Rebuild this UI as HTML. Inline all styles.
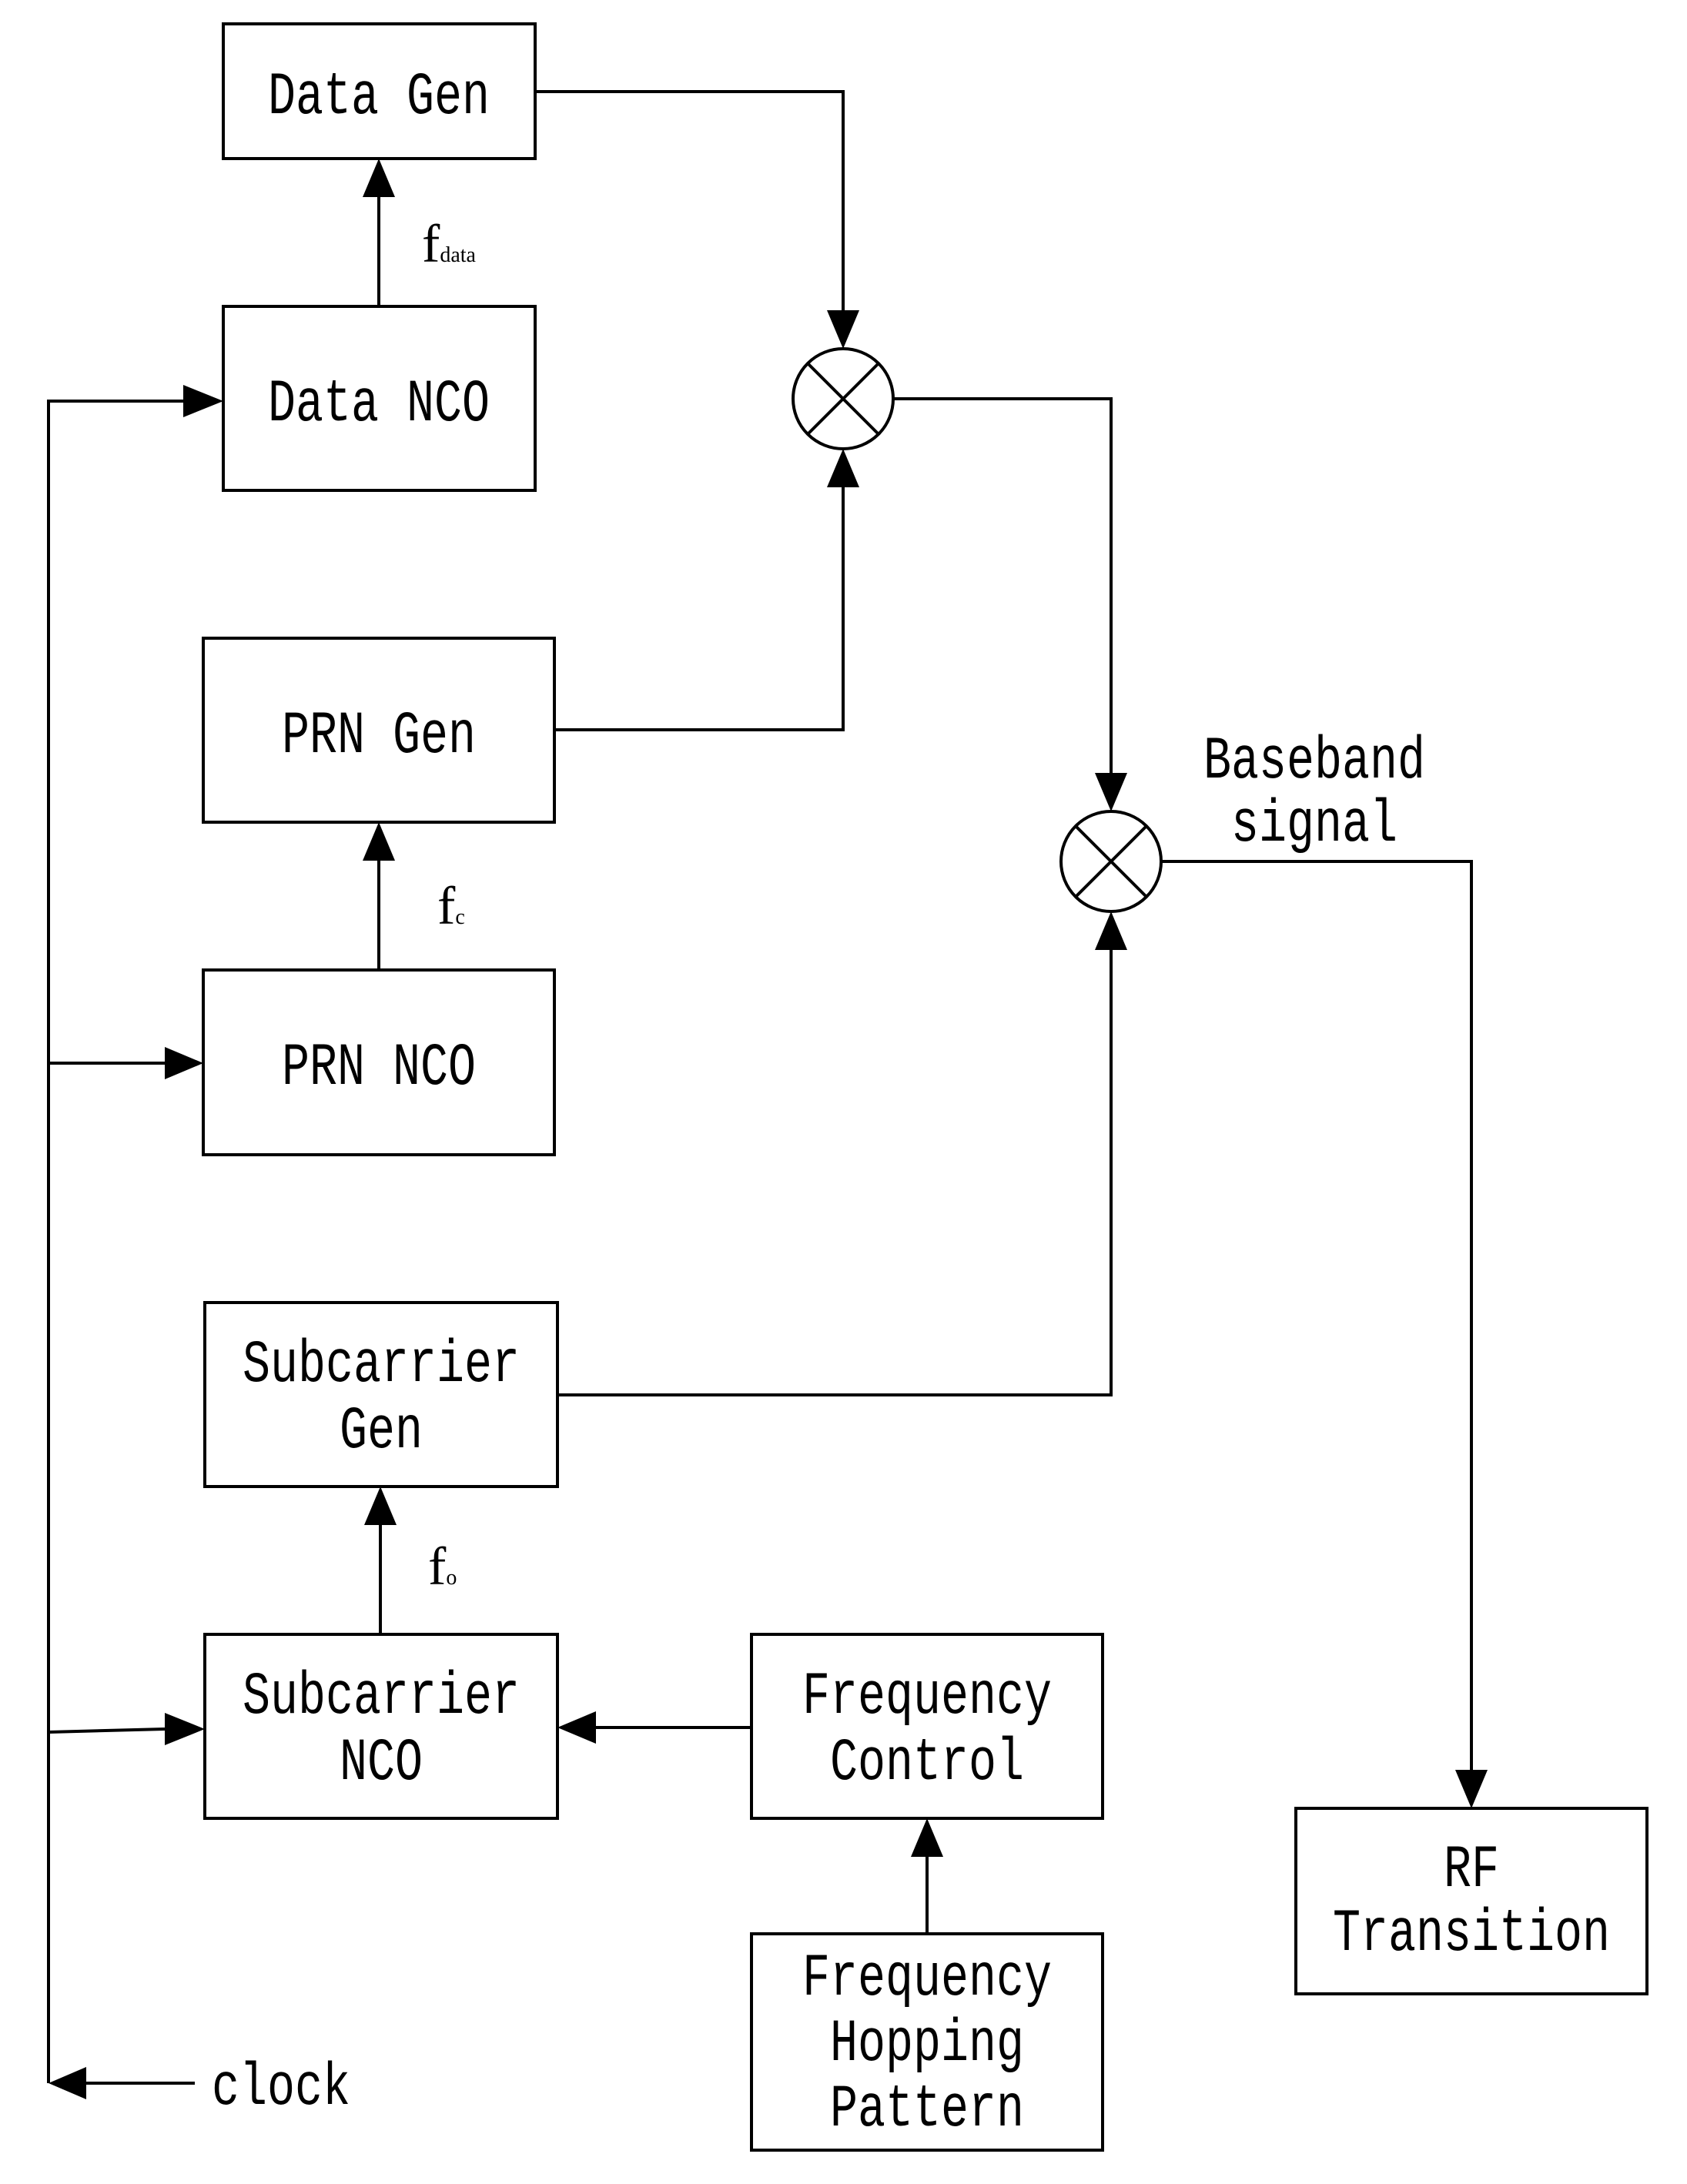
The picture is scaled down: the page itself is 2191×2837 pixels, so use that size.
<!DOCTYPE html>
<html><head><meta charset="utf-8"><style>html,body{margin:0;padding:0;background:#fff}svg{display:block}</style></head><body>
<svg width="2191" height="2837" viewBox="0 0 2191 2837" xmlns="http://www.w3.org/2000/svg">
<style>text{font-family:"Liberation Mono",monospace;font-size:60px;fill:#000}</style>
<g fill="none" stroke="#000" stroke-width="4">
<rect x="290" y="31" width="405" height="175"/>
<rect x="290" y="398" width="405" height="239"/>
<rect x="264" y="829" width="456" height="239"/>
<rect x="264" y="1260" width="456" height="240"/>
<rect x="266" y="1692" width="458" height="239"/>
<rect x="266" y="2123" width="458" height="239"/>
<rect x="976" y="2123" width="456" height="239"/>
<rect x="976" y="2512" width="456" height="281"/>
<rect x="1683" y="2349" width="456" height="241"/>
<circle cx="1095" cy="518" r="65"/>
<circle cx="1443" cy="1119" r="65"/>
<path d="M1049,472 L1141,564 M1141,472 L1049,564"/>
<path d="M1397,1073 L1489,1165 M1489,1073 L1397,1165"/>
</g>
<g fill="none" stroke="#000" stroke-width="4">
<path d="M63,2706 L63,521 L238,521"/>
<path d="M63,1381 L214,1381"/>
<path d="M63,2250 L214,2246"/>
<path d="M253,2706 L112,2706"/>
<path d="M492,398 L492,256"/>
<path d="M492,1260 L492,1118"/>
<path d="M494,2123 L494,1981"/>
<path d="M1204,2512 L1204,2412"/>
<path d="M976,2244 L774,2244"/>
<path d="M695,119 L1095,119 L1095,403"/>
<path d="M720,948 L1095,948 L1095,633"/>
<path d="M1160,518 L1443,518 L1443,1004"/>
<path d="M724,1812 L1443,1812 L1443,1234"/>
<path d="M1508,1119 L1911,1119 L1911,2299"/>
</g>
<g fill="#000">
<path d="M238,500 L290,521 L238,542 Z"/>
<path d="M214,1360 L264,1381 L214,1402 Z"/>
<path d="M214,2225 L266,2246 L214,2267 Z"/>
<path d="M112,2685 L63,2706 L112,2727 Z"/>
<path d="M471,256 L492,206 L513,256 Z"/>
<path d="M471,1118 L492,1068 L513,1118 Z"/>
<path d="M473,1981 L494,1931 L515,1981 Z"/>
<path d="M1183,2412 L1204,2362 L1225,2412 Z"/>
<path d="M774,2223 L724,2244 L774,2265 Z"/>
<path d="M1074,403 L1095,453 L1116,403 Z"/>
<path d="M1074,633 L1095,583 L1116,633 Z"/>
<path d="M1422,1004 L1443,1054 L1464,1004 Z"/>
<path d="M1422,1234 L1443,1184 L1464,1234 Z"/>
<path d="M1890,2299 L1911,2349 L1932,2299 Z"/>
</g>
<g text-anchor="middle">
<text transform="translate(492,147) scale(1,1.3)">Data Gen</text>
<text transform="translate(492,546) scale(1,1.3)">Data NCO</text>
<text transform="translate(492,977) scale(1,1.3)">PRN Gen</text>
<text transform="translate(492,1408) scale(1,1.3)">PRN NCO</text>
<text transform="translate(495,1794) scale(1,1.3)">Subcarrier</text>
<text transform="translate(495,1880) scale(1,1.3)">Gen</text>
<text transform="translate(495,2225) scale(1,1.3)">Subcarrier</text>
<text transform="translate(495,2311) scale(1,1.3)">NCO</text>
<text transform="translate(1204,2225) scale(1,1.3)">Frequency</text>
<text transform="translate(1204,2311) scale(1,1.3)">Control</text>
<text transform="translate(1204,2591) scale(1,1.3)">Frequency</text>
<text transform="translate(1204,2676) scale(1,1.3)">Hopping</text>
<text transform="translate(1204,2761) scale(1,1.3)">Pattern</text>
<text transform="translate(1911,2450) scale(1,1.3)">RF</text>
<text transform="translate(1911,2533) scale(1,1.3)">Transition</text>
<text transform="translate(1707,1010) scale(1,1.3)">Baseband</text>
<text transform="translate(1707,1092) scale(1,1.3)">signal</text>
</g>
<text transform="translate(275,2733) scale(1,1.3)">clock</text>
<text x="548" y="340" style="font-family:'Liberation Serif',serif;font-size:70px">f<tspan style="font-size:28px">data</tspan></text>
<text x="568" y="1200" style="font-family:'Liberation Serif',serif;font-size:70px">f<tspan style="font-size:28px">c</tspan></text>
<text x="556" y="2058" style="font-family:'Liberation Serif',serif;font-size:70px">f<tspan style="font-size:28px">o</tspan></text>
</svg>
</body></html>
